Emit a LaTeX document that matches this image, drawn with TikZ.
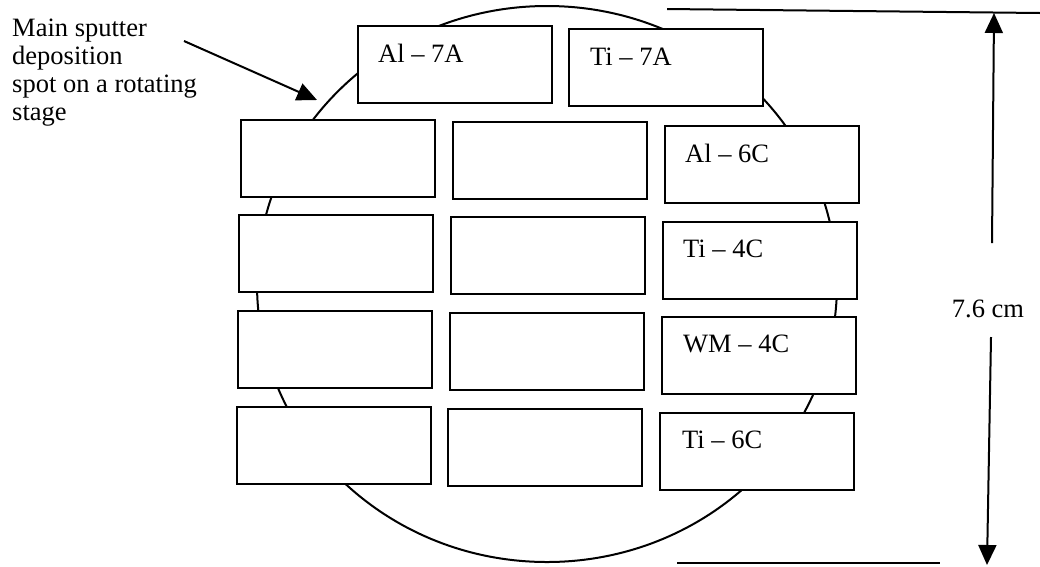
\documentclass[tikz,border=0pt]{standalone}
\usepackage{fontspec}
\setmainfont{Liberation Serif}
\usetikzlibrary{arrows.meta}
\begin{document}
\begin{tikzpicture}[x=1pt,y=-1pt,
  box/.style={draw, line width=2pt, fill=white, minimum width=194pt, minimum height=77pt, inner sep=0pt, anchor=north west},
  lab/.style={font=\fontsize{26.5}{28}\selectfont, inner sep=0pt, anchor=base west},
  ln/.style={line width=2pt},
  tip/.style={-{Triangle[length=20pt,width=18pt]}}]
\useasboundingbox (0,0) rectangle (1040,566);
% stage
\draw[ln] (547,284) ellipse [x radius=290, y radius=278];
% boxes
\node[box] (a7) at (357,25) {};
\node[box] (t7) at (568,28) {};
\node[box] (r1a) at (240,119) {};
\node[box] (r1b) at (452,121) {};
\node[box] (r1c) at (664,125) {};
\node[box] (r2a) at (238,214) {};
\node[box] (r2b) at (450,216) {};
\node[box] (r2c) at (662,221) {};
\node[box] (r3a) at (237,310) {};
\node[box] (r3b) at (449,312) {};
\node[box] (r3c) at (661,316) {};
\node[box] (r4a) at (236,406) {};
\node[box] (r4b) at (447,408) {};
\node[box] (r4c) at (659,412) {};
% box labels
\node[lab] at ([xshift=21pt,yshift=-37pt]a7.north west) {Al – 7A};
\node[lab] at ([xshift=22pt,yshift=-37pt]t7.north west) {Ti – 7A};
\node[lab] at ([xshift=21pt,yshift=-37pt]r1c.north west) {Al – 6C};
\node[lab] at ([xshift=21pt,yshift=-36.5pt]r2c.north west) {Ti – 4C};
\node[lab] at ([xshift=22pt,yshift=-36.5pt]r3c.north west) {WM – 4C};
\node[lab] at ([xshift=23pt,yshift=-36.5pt]r4c.north west) {Ti – 6C};
% caption and pointer
\node[font=\fontsize{26.5}{28}\selectfont, inner sep=0pt, anchor=north west, align=left] (cap) at (12,18.5)
  {Main sputter\\deposition\\spot on a rotating\\stage};
\coordinate (p1) at (184,41);
\coordinate (p2) at (317,100);
\draw[ln, tip] (p1) -- (p2);
% dimension
\coordinate (t1) at (667,9);
\coordinate (t2) at (1040,13);
\draw[ln] (t1) -- (t2);
\coordinate (b1) at (677,563);
\coordinate (b2) at (940,563);
\draw[ln] (b1) -- (b2);
\node[lab, anchor=base] (dim) at (988,317) {7.6 cm};
\coordinate (d1) at (992,243);
\coordinate (d1t) at (994,13);
\coordinate (d2) at (991,337);
\coordinate (d2t) at (987,565);
\draw[ln, tip] (d1) -- (d1t);
\draw[ln, tip] (d2) -- (d2t);
\end{tikzpicture}
\end{document}
